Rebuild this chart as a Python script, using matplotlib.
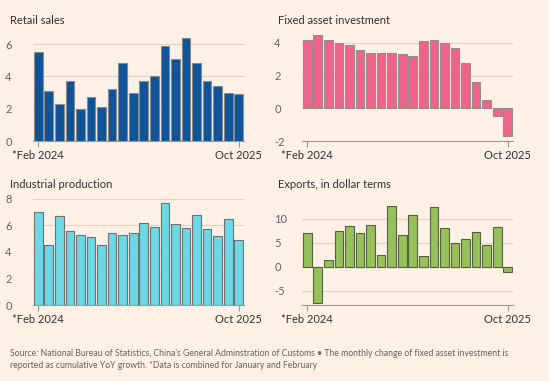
import matplotlib
matplotlib.use("Agg")
import matplotlib.pyplot as plt
import numpy as np

plt.rcParams['font.family'] = ['Lato', 'DejaVu Sans']

months = ["*Feb 2024", "Mar 2024", "Apr 2024", "May 2024", "Jun 2024", "Jul 2024",
          "Aug 2024", "Sep 2024", "Oct 2024", "Nov 2024", "Dec 2024", "Feb 2025",
          "Mar 2025", "Apr 2025", "May 2025", "Jun 2025", "Jul 2025", "Aug 2025",
          "Sep 2025", "Oct 2025"]

retail_sales = [5.5, 3.1, 2.3, 3.7, 2.0, 2.7, 2.1, 3.2, 4.8, 3.0,
                3.7, 4.0, 5.9, 5.1, 6.4, 4.8, 3.7, 3.4, 3.0, 2.9]
fixed_asset = [4.2, 4.5, 4.2, 4.0, 3.9, 3.6, 3.4, 3.4, 3.4, 3.3,
               3.2, 4.1, 4.2, 4.0, 3.7, 2.8, 1.6, 0.5, -0.5, -1.7]
industrial = [7.0, 4.5, 6.7, 5.6, 5.3, 5.1, 4.5, 5.4, 5.3, 5.4,
              6.2, 5.9, 7.7, 6.1, 5.8, 6.8, 5.7, 5.2, 6.5, 4.9]
exports = [7.1, -7.6, 1.3, 7.4, 8.4, 6.9, 8.6, 2.4, 12.7, 6.5,
           10.7, 2.3, 12.4, 8.1, 4.9, 5.8, 7.2, 4.4, 8.2, -1.1]

titles = ["Retail sales", "Fixed asset investment", "Industrial production",
          "Exports, in dollar terms"]
colors = ["#0f5499", "#f0648c", "#6cd8e6", "#96c05a"]
edges = ["#8a8a8a", "#9a8a8a", "#707070", "#556040"]
yticks = [[0, 2, 4, 6], [-2, 0, 2, 4], [0, 2, 4, 6, 8], [-5, 0, 5, 10]]
ylims = [(0, 6.62), (-2, 4.55), (0, 8.15), (-8, 14.5)]
series = [retail_sales, fixed_asset, industrial, exports]

W, H = 549, 381
fig = plt.figure(figsize=(W / 100, H / 100), dpi=100)
fig.patch.set_facecolor("#fff1e5")

# pixel boxes: left, top, right, bottom
boxes = [(33, 34, 244, 141), (302, 34, 513, 141), (33, 197, 244, 305), (302, 197, 513, 305)]
title_pos = [(10, 21), (278, 21), (10, 185), (278, 185)]

for i in range(4):
    l, t, r, b = boxes[i]
    ax = fig.add_axes([l / W, 1 - b / H, (r - l) / W, (b - t) / H])
    ax.set_facecolor("none")
    x = np.arange(len(months))
    ax.bar(x, series[i], width=0.82, color=colors[i], edgecolor=edges[i], linewidth=0.8, zorder=3)
    ax.set_xlim(-0.5, len(months) - 0.5)
    ax.set_ylim(*ylims[i])
    ax.set_yticks(yticks[i])
    ax.set_yticklabels([str(v) for v in yticks[i]])
    ax.grid(axis='y', color="#e0d3c8", linewidth=0.9, zorder=0)
    ax.set_xticks([0, len(months) - 1])
    ax.set_xticklabels([months[0], months[-1]])
    for s in ["top", "right", "left"]:
        ax.spines[s].set_visible(False)
    ax.spines["bottom"].set_color("#a09890")
    ax.spines["bottom"].set_linewidth(0.8)
    ax.tick_params(axis='y', length=0, labelsize=8, labelcolor="#66605c")
    ax.tick_params(axis='x', length=4, width=0.8, color="#a09890", labelsize=8,
                   labelcolor="#33302e", pad=2.5)
    for lab in ax.get_yticklabels():
        lab.set_horizontalalignment('left')
    ax.yaxis.set_tick_params(pad=20)
    tx, ty = title_pos[i]
    fig.text(tx / W, 1 - ty / H, titles[i], fontsize=8, color="#33302e", va='center', ha='left')

fig.text(10 / W, 1 - 354 / H,
         "Source: National Bureau of Statistics, China's General Adminstration of Customs \u2022 The monthly change of fixed asset investment is",
         fontsize=6.2, color="#66605c", va='center', ha='left')
fig.text(10 / W, 1 - 365 / H,
         "reported as cumulative YoY growth. *Data is combined for January and February",
         fontsize=6.2, color="#66605c", va='center', ha='left')

fig.savefig("out.png", dpi=100, facecolor=fig.get_facecolor())
